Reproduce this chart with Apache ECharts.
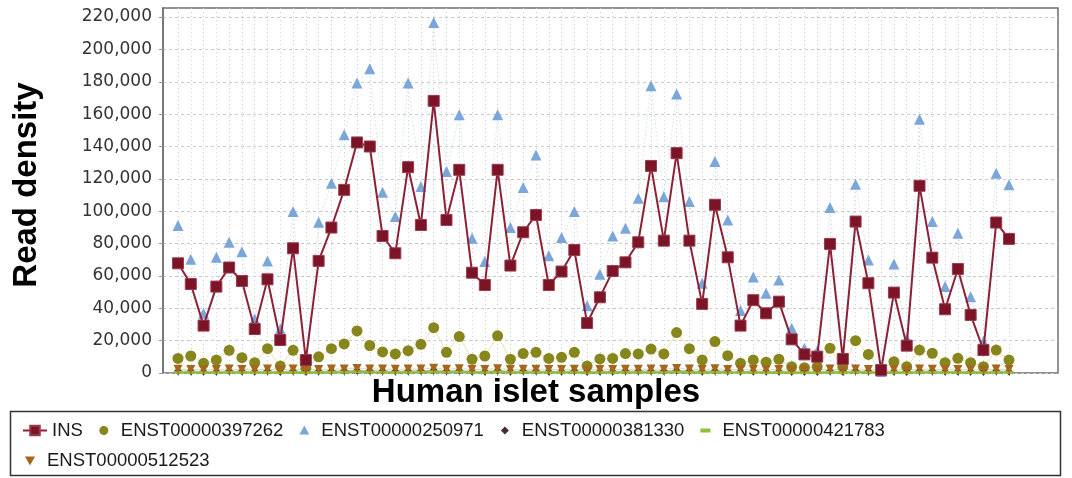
<!DOCTYPE html>
<html><head><meta charset="utf-8">
<script src="https://cdn.jsdelivr.net/npm/echarts@6/dist/echarts.min.js"></script>
<style>html,body{margin:0;padding:0;background:#fff}#c{width:1072px;height:478px}</style>
</head><body><div id="c"></div>
<script>
// ---- data ----
const categories = Array.from({length: 66}, (_, i) => 'Sample ' + (i + 1));
const yTicks = [0, 20000, 40000, 60000, 80000, 100000, 120000, 140000, 160000, 180000, 200000, 220000];
const seriesNames = ['INS', 'ENST00000397262', 'ENST00000250971', 'ENST00000381330', 'ENST00000421783', 'ENST00000512523'];

const INS = [67800, 55000, 29300, 53400, 65200, 56900, 27200, 57900, 20400, 77100,
  8000, 69300, 89900, 113200, 142500, 140000, 84700, 74000, 127200, 91500,
  168200, 94600, 125600, 62000, 54400, 125600, 66400, 87000, 97700, 54400,
  62700, 76000, 30900, 46800, 63000, 68400, 80800, 128000, 81800, 135900,
  81800, 42700, 104000, 71500, 29300, 45000, 36900, 44100, 20800, 11500,
  10100, 79800, 8700, 93600, 55500, 1800, 49700, 16900, 115700, 71300,
  39400, 64300, 35900, 14200, 93000, 82900];

const ENST00000397262 = [9000, 10500, 6000, 8000, 14000, 9500, 6400, 15000, 4300, 14000,
  3000, 10000, 15000, 18000, 26000, 17000, 13000, 11800, 13800, 17700,
  28000, 12800, 22500, 8500, 10500, 23000, 8500, 12000, 12800, 9000,
  9700, 12800, 4300, 8700, 9000, 12000, 11800, 14800, 11800, 25000,
  15000, 8000, 19400, 10700, 6000, 8000, 6700, 8500, 3900, 3300,
  3900, 15300, 3900, 20000, 11500, 1800, 7000, 3900, 14200, 12200,
  6400, 9100, 6400, 3900, 14200, 8000];

const ENST00000250971 = [91100, 70300, 36900, 71500, 80800, 75000, 33400, 69300, 27000, 99800,
  9000, 93200, 117300, 147200, 179200, 188000, 111700, 96700, 179200, 115200,
  216700, 124500, 159600, 83300, 68900, 159600, 89900, 114600, 134800, 72400,
  83700, 99800, 41600, 61000, 84700, 89500, 108000, 177500, 109000, 172400,
  106000, 55500, 130700, 94600, 38600, 59400, 49300, 57500, 27600, 15300,
  13600, 102300, 10500, 116700, 69900, 1000, 67400, 21400, 156900, 93600,
  53400, 86400, 47200, 19400, 123500, 116300];

const ENST00000381330 = [1200, 1100, 900, 1000, 1300, 1100, 900, 1200, 800, 1200,
  700, 1100, 1300, 1400, 1600, 1400, 1200, 1100, 1300, 1400,
  1700, 1200, 1500, 1000, 1000, 1500, 1000, 1200, 1200, 1000,
  1000, 1200, 800, 1000, 1000, 1200, 1200, 1300, 1200, 1600,
  1300, 1000, 1400, 1100, 900, 1000, 900, 1000, 800, 700,
  800, 1300, 800, 1400, 1100, 500, 1000, 800, 1300, 1200,
  900, 1000, 900, 800, 1300, 1000];

const ENST00000421783 = [400, 400, 300, 300, 500, 400, 300, 500, 200, 500,
  200, 400, 500, 600, 800, 600, 500, 400, 500, 600,
  800, 500, 700, 400, 400, 700, 400, 500, 500, 400,
  400, 500, 200, 400, 400, 500, 500, 500, 500, 700,
  500, 400, 600, 400, 300, 400, 300, 400, 200, 200,
  200, 500, 200, 600, 400, 100, 300, 200, 500, 500,
  300, 400, 300, 200, 500, 400];

const ENST00000512523 = [2300, 2200, 2000, 2100, 2400, 2200, 2000, 2400, 1900, 2400,
  1800, 2200, 2400, 2500, 2800, 2500, 2400, 2300, 2400, 2500,
  2900, 2300, 2700, 2100, 2200, 2700, 2100, 2300, 2300, 2200,
  2200, 2300, 1900, 2100, 2200, 2300, 2300, 2400, 2300, 2800,
  2400, 2100, 2600, 2200, 2000, 2100, 2000, 2100, 1900, 1800,
  1900, 2400, 1900, 2500, 2200, 1600, 2100, 1900, 2400, 2300,
  2000, 2200, 2000, 1900, 2400, 2100];

// ---- chart ----
const FONT = 'Arial, "Liberation Sans", sans-serif';
const chart = echarts.init(document.getElementById('c'), null, {renderer: 'canvas'});
const fmt = v => String(v).replace(/\B(?=(\d{3})+(?!\d))/g, ',');

const lineBase = {type: 'line', xAxisIndex: 1, yAxisIndex: 1, showSymbol: true, showAllSymbol: true};

const option = {
  animation: false,
  backgroundColor: '#ffffff',
  grid: [
    {left: 163, right: 14, top: 8, bottom: 105, show: true, borderColor: '#6f6f6f', borderWidth: 1.5},
    {left: 178, right: 63, top: 8, bottom: 105}
  ],
  xAxis: [
    {gridIndex: 0, type: 'value', min: 0, max: 1, show: false},
    {gridIndex: 1, type: 'category', data: categories, boundaryGap: false,
      axisLine: {show: false},
      axisTick: {show: true, interval: 0, length: 3, lineStyle: {color: '#aaaaaa'}},
      axisLabel: {show: false, interval: 0},
      splitLine: {show: true, interval: 0, lineStyle: {color: '#cfcfcf', type: [1, 3], width: 1}}}
  ],
  yAxis: [
    {gridIndex: 0, type: 'value', min: 0, max: 225600,
      axisLine: {show: true, lineStyle: {color: '#6f6f6f', width: 1.5}},
      axisTick: {show: true, length: 4, customValues: yTicks, lineStyle: {color: '#999999'}},
      axisLabel: {customValues: yTicks, formatter: fmt, color: '#333333', fontSize: 17, fontFamily: '"DejaVu Sans", sans-serif', margin: 11},
      splitLine: {show: true, lineStyle: {color: '#c9c9c9', type: [3, 3], width: 1}}},
    {gridIndex: 1, type: 'value', min: 0, max: 225600, show: false, splitLine: {show: false}}
  ],
  legend: [
    {left: 17, top: 416, itemGap: 9, itemWidth: 24, itemHeight: 12,
      textStyle: {fontSize: 18.5, color: '#1a1a1a', fontFamily: FONT},
      data: [
        {name: seriesNames[0]},
        {name: seriesNames[1], icon: 'path://M0,0M24,12M12,1.5A4.5,4.5,0,1,1,11.99,1.5Z'},
        {name: seriesNames[2], icon: 'path://M0,0M24,12M12,1L17,10H7Z'},
        {name: seriesNames[3], icon: 'path://M0,0M24,12M12,2L16,6L12,10L8,6Z'},
        {name: seriesNames[4], icon: 'path://M0,0M24,12M7,4H17V8H7Z'}
      ]},
    {left: 13, top: 446, itemGap: 9, itemWidth: 24, itemHeight: 12,
      textStyle: {fontSize: 18.5, color: '#1a1a1a', fontFamily: FONT},
      data: [
        {name: seriesNames[5], icon: 'path://M0,0M24,12M7,2H17L12,11Z'}
      ]}
  ],
  series: [
    Object.assign({}, lineBase, {name: seriesNames[0], data: INS,
      symbol: 'rect', symbolSize: 11, z: 6,
      itemStyle: {color: '#7a1426', borderColor: '#9a3a4a', borderWidth: 1},
      lineStyle: {color: '#8c2136', width: 2}}),
    Object.assign({}, lineBase, {name: seriesNames[1], data: ENST00000397262,
      symbol: 'circle', symbolSize: 11, z: 4,
      itemStyle: {color: '#86861c'},
      lineStyle: {color: '#e6e6a8', width: 1}}),
    Object.assign({}, lineBase, {name: seriesNames[2], data: ENST00000250971,
      symbol: 'triangle', symbolSize: 11, z: 3,
      itemStyle: {color: '#7ba6da'},
      lineStyle: {color: '#dbe7f6', width: 1, type: [2, 2]}}),
    Object.assign({}, lineBase, {name: seriesNames[3], data: ENST00000381330,
      symbol: 'diamond', symbolSize: 8, z: 5,
      itemStyle: {color: '#4a2a2a'},
      lineStyle: {color: '#4a2a2a', width: 1, opacity: 0.3}}),
    Object.assign({}, lineBase, {name: seriesNames[4], data: ENST00000421783,
      symbol: 'rect', symbolSize: [9, 3], z: 5,
      itemStyle: {color: '#8dbf3a'},
      lineStyle: {color: '#8dbf3a', width: 2}}),
    Object.assign({}, lineBase, {name: seriesNames[5], data: ENST00000512523,
      symbol: 'triangle', symbolRotate: 180, symbolSize: 9, z: 5,
      itemStyle: {color: '#a5661e'},
      lineStyle: {color: '#a5661e', width: 1, opacity: 0.3}})
  ],
  graphic: [
    {type: 'text', x: 27, y: 185, rotation: Math.PI / 2,
      style: {text: 'Read density', font: 'bold 33px ' + FONT, fill: '#000', align: 'center', verticalAlign: 'middle'}},
    {type: 'text', x: 536, y: 393,
      style: {text: 'Human islet samples', font: 'bold 33px ' + FONT, fill: '#000', align: 'center', verticalAlign: 'middle'}},
    {type: 'rect', shape: {x: 10.5, y: 411.5, width: 1050, height: 64},
      style: {fill: 'none', stroke: '#333333', lineWidth: 1.5}, z: -1}
  ]
};
chart.setOption(option);
</script>
</body></html>
